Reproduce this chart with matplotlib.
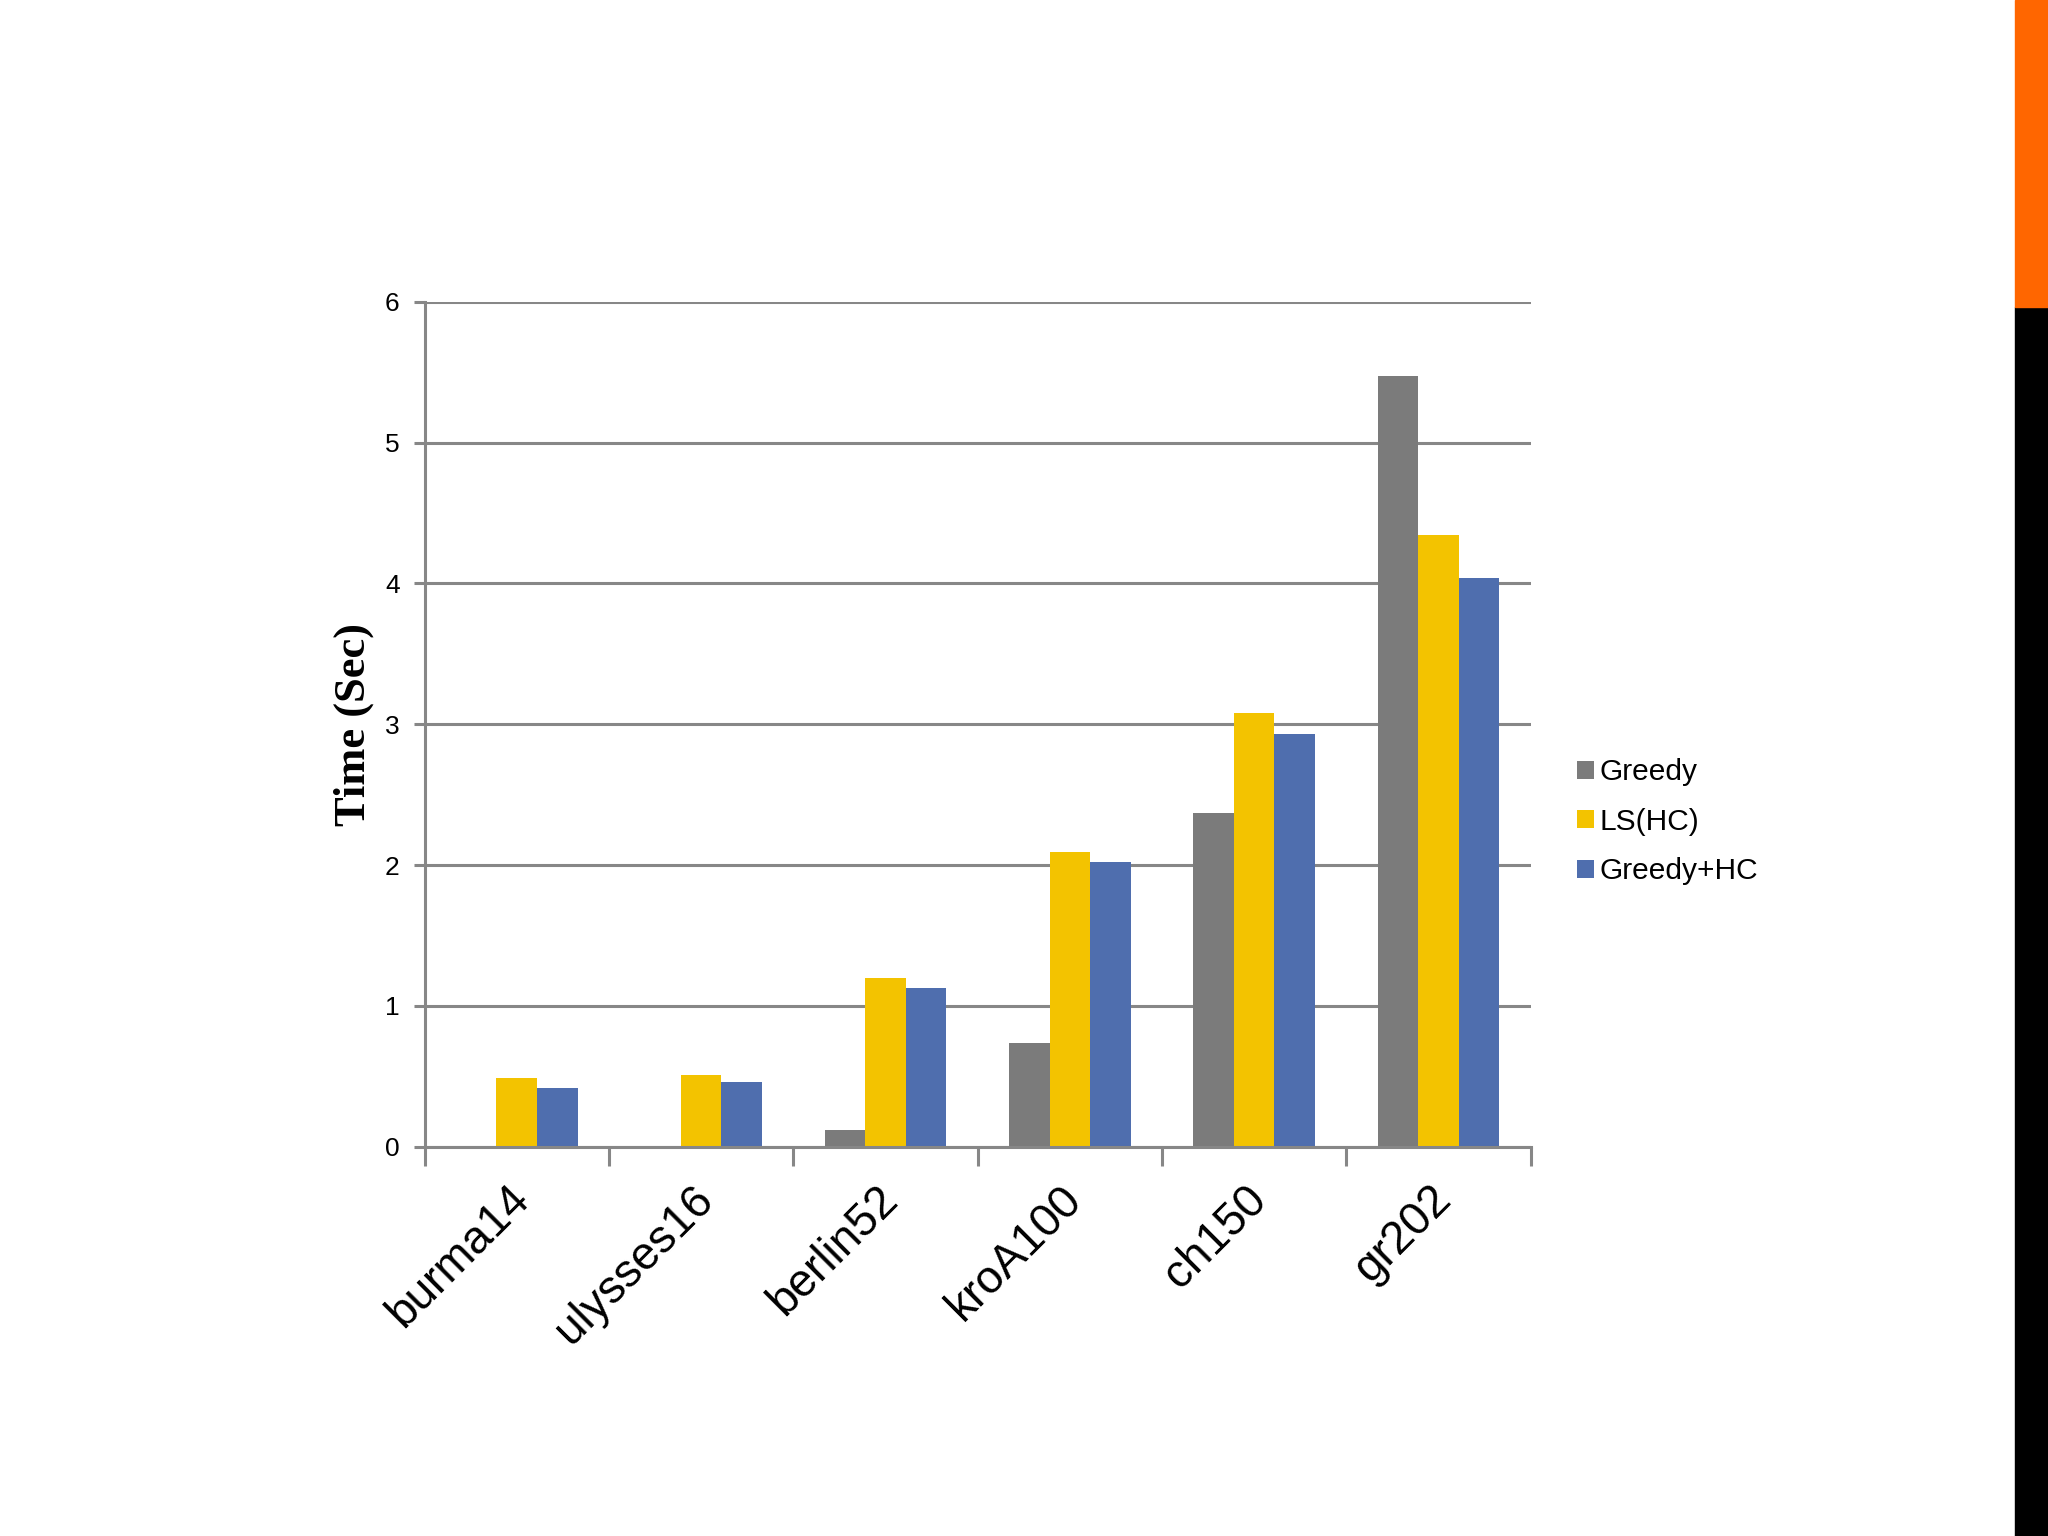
import numpy as np
import matplotlib.pyplot as plt
import matplotlib.transforms as mtransforms
from matplotlib.patches import Rectangle

# ------------------------------
# Data
# ------------------------------
instances = ["burma14", "ulysses16", "berlin52", "kroA100", "ch150", "gr202"]
greedy = [0.0, 0.0, 0.12, 0.74, 2.37, 5.47]
ls_hc = [0.49, 0.51, 1.20, 2.09, 3.08, 4.34]
greedy_hc = [0.42, 0.46, 1.13, 2.02, 2.93, 4.04]

series_names = ["Greedy", "LS(HC)", "Greedy+HC"]
colors = ["#7b7b7b", "#f3c300", "#4f6eae"]

plt.rcParams["font.family"] = ["Liberation Sans", "DejaVu Sans"]

fig = plt.figure(figsize=(20.48, 15.36), dpi=100)
ax = fig.add_axes([0.2073, 0.2534, 0.5401, 0.5502])

x = np.arange(len(instances))
w = 0.22
for i, (vals, name, c) in enumerate(zip([greedy, ls_hc, greedy_hc], series_names, colors)):
    ax.bar(x + (i - 1) * w, vals, w, color=c, label=name, zorder=3)

grid_c = "#878787"
ax.set_ylim(0, 6)
ax.set_xlim(-0.5, len(instances) - 0.5)
ax.set_yticks(range(7))
ax.yaxis.grid(True, color=grid_c, linewidth=2.2, zorder=0)

for s in ["top", "right"]:
    ax.spines[s].set_visible(False)
for s in ["left", "bottom"]:
    ax.spines[s].set_color(grid_c)
    ax.spines[s].set_linewidth(2.2)
    ax.spines[s].set_zorder(4)

# category boundary ticks on x
ax.set_xticks(np.arange(-0.5, len(instances)), minor=False)
ax.set_xticklabels([])
ax.tick_params(axis="x", length=14, width=2.2, color=grid_c, direction="out")
ax.set_xticks(x, minor=True)
ax.set_xticklabels(instances, minor=True, rotation=45, ha="right",
                   rotation_mode="anchor", fontsize=33)
ax.tick_params(axis="x", which="minor", length=0, pad=22)
shift = mtransforms.ScaledTranslation(-0.1, 0, fig.dpi_scale_trans)
for lbl in ax.get_xticklabels(minor=True):
    lbl.set_transform(lbl.get_transform() + shift)
ax.tick_params(axis="y", length=8, width=2.2, color=grid_c, labelsize=19, pad=10)

ax.set_ylabel("Time (Sec)", fontsize=32, fontweight="bold",
              family=["Liberation Serif", "DejaVu Serif"], labelpad=8)

leg = fig.legend(loc="center left", bbox_to_anchor=(0.757, 0.465),
                 frameon=False, fontsize=21.5, handlelength=0.55, handleheight=0.55,
                 handletextpad=0.2, labelspacing=0.72)

# right side decoration stripe
fig.patches.append(Rectangle((0.984, 0.0), 0.016, 0.8, transform=fig.transFigure,
                             color="black", zorder=0))
fig.patches.append(Rectangle((0.984, 0.8), 0.016, 0.2, transform=fig.transFigure,
                             color="#ff6600", zorder=0))

fig.savefig("out.png", dpi=100)
